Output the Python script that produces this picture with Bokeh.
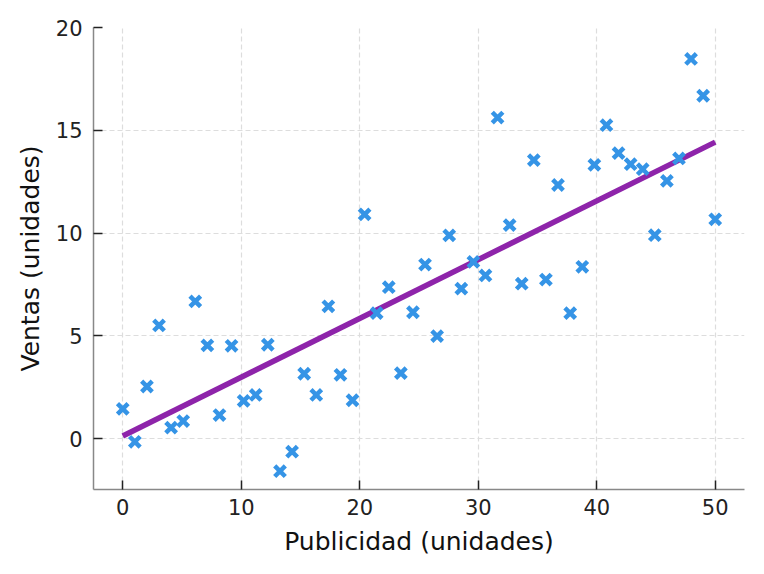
import numpy as np
from bokeh.plotting import figure
from bokeh.models import Range1d, FixedTicker
from bokeh.embed import file_html
from bokeh.resources import INLINE

# Data
publicidad = [0.00, 1.02, 2.04, 3.06, 4.08, 5.10, 6.12, 7.14, 8.16, 9.18,
              10.20, 11.22, 12.24, 13.27, 14.29, 15.31, 16.33, 17.35, 18.37, 19.39,
              20.41, 21.43, 22.45, 23.47, 24.49, 25.51, 26.53, 27.55, 28.57, 29.59,
              30.61, 31.63, 32.65, 33.67, 34.69, 35.71, 36.73, 37.76, 38.78, 39.80,
              40.82, 41.84, 42.86, 43.88, 44.90, 45.92, 46.94, 47.96, 48.98, 50.00]
ventas = [1.45, -0.15, 2.54, 5.51, 0.54, 0.86, 6.68, 4.54, 1.15, 4.52,
          1.84, 2.13, 4.57, -1.58, -0.63, 3.16, 2.13, 6.44, 3.11, 1.87,
          10.91, 6.11, 7.37, 3.19, 6.15, 8.47, 4.99, 9.89, 7.30, 8.60,
          7.94, 15.62, 10.39, 7.54, 13.55, 7.74, 12.34, 6.11, 8.36, 13.32,
          15.25, 13.89, 13.35, 13.11, 9.90, 12.54, 13.63, 18.47, 16.68, 10.67]
x_ticks = [0, 10, 20, 30, 40, 50]
y_ticks = [0, 5, 10, 15, 20]

slope, intercept = np.polyfit(publicidad, ventas, 1)
fit_x = [publicidad[0], publicidad[-1]]
fit_y = [intercept + slope * v for v in fit_x]

FONT = "DejaVu Sans"

p = figure(width=748, height=558, output_backend="svg", toolbar_location=None,
           x_range=Range1d(-2.47, 52.47), y_range=Range1d(-2.47, 20.0),
           min_border_left=93, min_border_right=4, min_border_top=27,
           min_border_bottom=69)
p.outline_line_color = None
p.background_fill_color = "white"
p.border_fill_color = "white"

p.line(fit_x, fit_y, line_color="#8e24aa", line_width=5.5)
p.scatter(publicidad, ventas, marker="x", size=15, line_width=4.5,
          line_color="#3594e6")

p.xaxis.ticker = FixedTicker(ticks=x_ticks)
p.yaxis.ticker = FixedTicker(ticks=y_ticks)
for ax in (p.xaxis[0], p.yaxis[0]):
    ax.axis_line_color = "#888888"
    ax.axis_line_width = 1.5
    ax.major_tick_line_color = "#222222"
    ax.major_tick_line_width = 1.5
    ax.major_tick_in = 9
    ax.major_tick_out = 0
    ax.minor_tick_line_color = None
    ax.major_label_text_font = FONT
    ax.major_label_text_font_size = "21px"
    ax.major_label_text_color = "#222222"
    ax.axis_label_text_font = FONT
    ax.axis_label_text_font_size = "25px"
    ax.axis_label_text_font_style = "normal"
    ax.axis_label_text_color = "#111111"

p.xaxis.axis_label = "Publicidad (unidades)"
p.yaxis.axis_label = "Ventas (unidades)"
p.xaxis.major_label_standoff = 9
p.yaxis.major_label_standoff = 11
p.xaxis.axis_label_standoff = 9
p.yaxis.axis_label_standoff = 8

p.grid.grid_line_color = "#dddddd"
p.grid.grid_line_dash = "5 3"
p.grid.grid_line_width = 1.2

open("out.html", "w").write(file_html(p, INLINE))
